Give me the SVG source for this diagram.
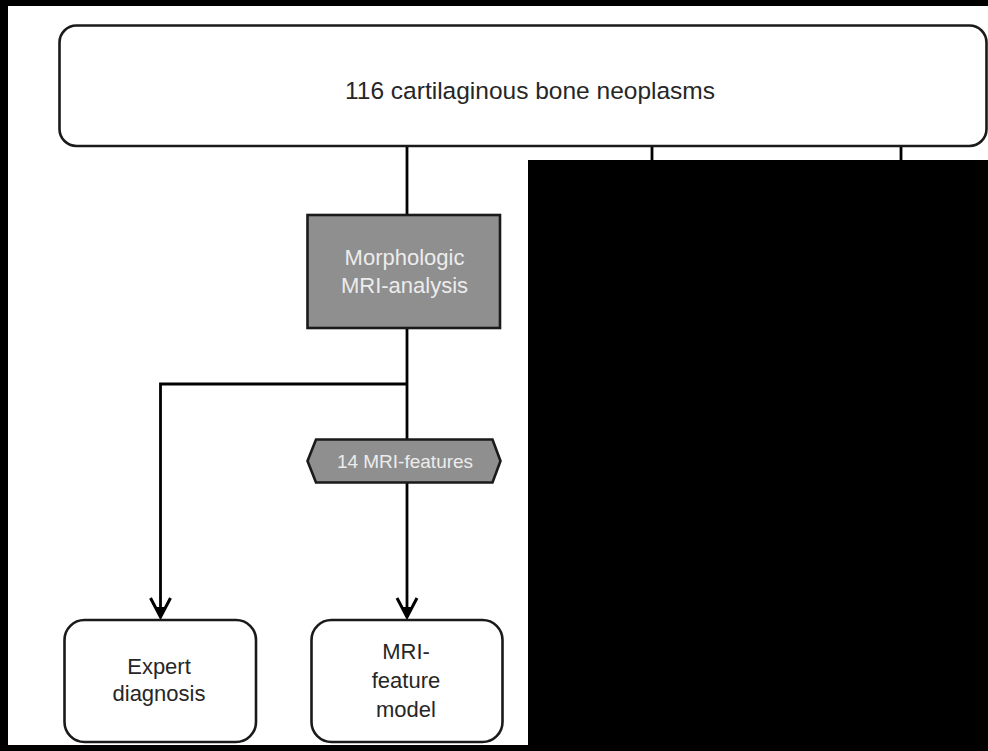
<svg xmlns="http://www.w3.org/2000/svg" width="988" height="751" viewBox="0 0 988 751">
<style>
.bg{fill:#000}
.box{fill:#fff;stroke:#1a1a1a;stroke-width:2.6}
.gray{fill:#8f8f8f;stroke:#1a1a1a;stroke-width:2.6}
.t{font-family:"Liberation Sans",Arial,sans-serif;fill:#262626;text-anchor:middle}
.tw{font-family:"Liberation Sans",Arial,sans-serif;fill:#ececec;text-anchor:middle}
.ln{fill:none;stroke:#000;stroke-width:2.8}
</style>
<defs>
<marker id="arr" markerUnits="userSpaceOnUse" markerWidth="26" markerHeight="26" viewBox="-22 -13 26 26" refX="0" refY="0" orient="auto">
<path d="M-19,-10 L0,0 L-19,10" fill="none" stroke="#000" stroke-width="3"/>
<path d="M-10,-5 L0,0 L-10,5 Z" fill="#000"/>
</marker>
</defs>
<rect x="0" y="0" width="988" height="751" class="bg"/>
<rect x="8" y="6" width="980" height="154" fill="#fff"/>
<rect x="8" y="6" width="520" height="739" fill="#fff"/>
<g id="connectors">
<line class="ln" x1="407" y1="146" x2="407" y2="215"/>
<line class="ln" x1="652" y1="146" x2="652" y2="162"/>
<line class="ln" x1="901" y1="146" x2="901" y2="162"/>
<line class="ln" x1="407" y1="328" x2="407" y2="439"/>
<polyline class="ln" points="407,384 160.5,384 160.5,617" marker-end="url(#arr)"/>
<line class="ln" x1="407" y1="482" x2="407" y2="617" marker-end="url(#arr)"/>
</g>
<g id="node-top">
<rect class="box" x="59.5" y="25.5" width="927" height="120.5" rx="17"/>
<text class="t" x="530" y="99" font-size="24.5">116 cartilaginous bone neoplasms</text>
</g>
<g id="node-morph">
<rect class="gray" x="307.5" y="215" width="192.5" height="113"/>
<text class="tw" x="404.5" y="265" font-size="22">Morphologic</text>
<text class="tw" x="404.5" y="293" font-size="22">MRI-analysis</text>
</g>
<g id="node-features">
<polygon class="gray" points="307.5,461 316,439.5 492.5,439.5 500.5,461 492.5,482.5 316,482.5"/>
<text class="tw" x="405" y="467.5" font-size="19">14 MRI-features</text>
</g>
<g id="node-expert">
<rect class="box" x="64.5" y="620" width="191.5" height="122" rx="20"/>
<text class="t" x="159" y="674" font-size="22">Expert</text>
<text class="t" x="159" y="701" font-size="22">diagnosis</text>
</g>
<g id="node-model">
<rect class="box" x="311.5" y="620" width="191" height="122" rx="20"/>
<text class="t" x="406" y="659" font-size="22">MRI-</text>
<text class="t" x="406" y="687.5" font-size="22">feature</text>
<text class="t" x="406" y="716.5" font-size="22">model</text>
</g>
<rect x="528" y="160" width="460" height="591" class="bg"/>
</svg>
